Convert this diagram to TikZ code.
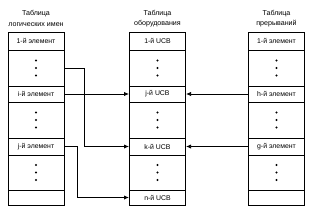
\documentclass[tikz,border=0pt]{standalone}
\usepackage{fontspec}
\setmainfont{Liberation Sans}
\usetikzlibrary{arrows.meta}
\begin{document}
\begin{tikzpicture}[x=1pt,y=-1pt,
  cell/.style={draw=black,line width=1pt,minimum width=56pt,inner sep=0pt,font=\fontsize{6.9}{7}\selectfont},
  title/.style={align=center,font=\fontsize{7.1}{10.5}\selectfont},
  conn/.style={draw=black,line width=0.75pt},
  arr/.style={conn,-{Latex[length=5pt,width=4.2pt]}},
  dot/.style={fill=black}]
\useasboundingbox (0,0) rectangle (318,210);
% titles
\node[title] (tL) at (36,18.5) {Таблица\\логических имен};
\node[title] (tM) at (157.5,18.5) {Таблица\\оборудования};
\node[title] (tR) at (276.5,18.5) {Таблица\\прерываний};
% tables
\foreach \p/\x/\a/\b/\c/\d in {L/36/1-й элемент/i-й элемент/j-й элемент/,
                               M/157.5/1-й UCB/j-й UCB/k-й UCB/n-й UCB,
                               R/276.5/1-й элемент/h-й элемент/g-й элемент/}{
  \node[cell,minimum height=18pt] (\p1) at (\x,41) {\a};
  \node[cell,minimum height=36pt] (\p d1) at (\x,68) {};
  \node[cell,minimum height=16pt] (\p2) at (\x,94) {\b};
  \node[cell,minimum height=36pt] (\p d2) at (\x,120) {};
  \node[cell,minimum height=17pt] (\p3) at (\x,146.5) {\c};
  \node[cell,minimum height=35pt] (\p d3) at (\x,172.5) {};
  \node[cell,minimum height=15pt] (\p4) at (\x,197.5) {\d};
  \foreach \q in {d1,d2,d3}{
    \foreach \dy in {-7.5,0,7.5}{
      \fill[dot] ([yshift=-\dy pt]\p\q.center) circle (1.15pt);
    }
  }
}
% connectors
\draw[arr] (Ld1.east) -- ++(20,0) |- (M3.west);
\draw[arr] (L2.east) -- (M2.west);
\draw[arr] (L3.east) -- ++(13,0) |- (M4.west);
\draw[arr] (R2.west) -- (M2.east);
\draw[arr] (R3.west) -- (M3.east);
\end{tikzpicture}
\end{document}
